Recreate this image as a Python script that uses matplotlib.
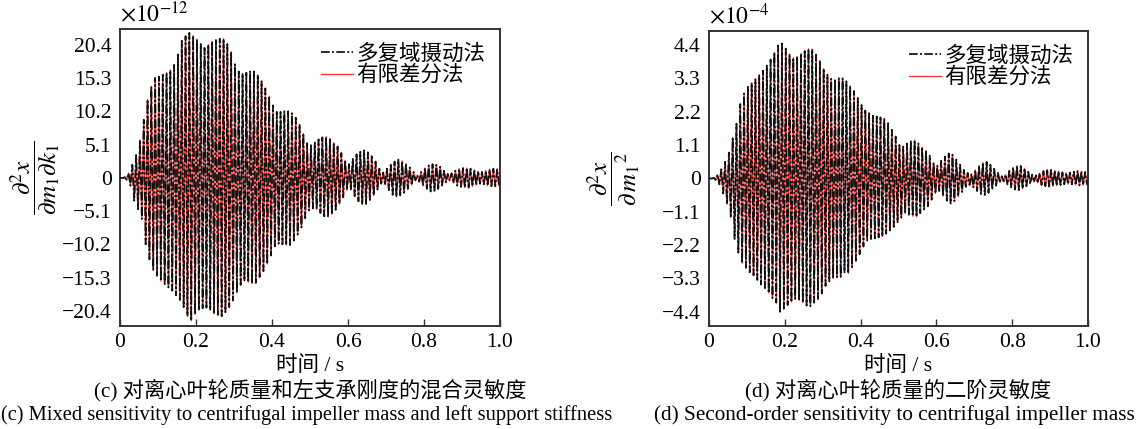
import numpy as np
import matplotlib
matplotlib.use("Agg")
import matplotlib.pyplot as plt

plt.rcParams['font.family'] = ['Liberation Serif', 'Noto Sans CJK SC', 'DejaVu Sans']
plt.rcParams['mathtext.fontset'] = 'stix'
plt.rcParams['axes.unicode_minus'] = True

# ---------------- data ----------------
# one oscillation cycle per 0.01 s; peak values of each half cycle
cycle_period = 0.01
n_cycles = 100

# (c) mixed sensitivity, unit 1e-12
c_upper = [0.0, 0.1, 0.7, 2.0, 3.5, 5.8, 8.9, 12.0, 14.0, 15.3,
           15.5, 15.8, 16.1, 16.5, 17.3, 18.9, 21.0, 21.7, 22.2, 21.8,
           21.2, 20.5, 19.9, 20.4, 20.9, 21.1, 21.3, 21.3, 20.5, 19.3,
           17.4, 16.3, 16.0, 16.1, 16.3, 16.3, 15.8, 14.8, 13.7, 12.5,
           11.1, 10.1, 10.1, 10.2, 10.2, 9.9, 9.2, 8.2, 6.8, 5.3,
           5.0, 5.4, 5.9, 6.2, 6.3, 6.0, 5.4, 4.8, 3.8, 2.7,
           2.1, 2.9, 3.6, 4.0, 4.2, 3.9, 3.3, 2.5, 1.4, 0.8,
           1.4, 2.0, 2.5, 2.8, 2.6, 2.2, 1.6, 0.9, 0.4, 0.9,
           1.5, 1.9, 2.1, 2.0, 1.7, 1.1, 0.6, 0.7, 1.1, 1.4,
           1.5, 1.5, 1.4, 1.2, 1.0, 0.9, 1.1, 1.3, 1.4, 1.3]
c_lower = [-0.05, -0.3, -1.2, -3.5, -4.8, -6.3, -10.2, -12.5, -14.1, -15.0,
           -15.8, -16.3, -16.8, -17.3, -18.0, -18.7, -19.8, -21.2, -21.9, -20.9,
           -20.3, -20.0, -19.9, -20.3, -20.7, -21.0, -21.2, -20.6, -19.8, -18.8,
           -17.6, -16.4, -15.8, -16.0, -16.2, -16.1, -15.2, -14.3, -13.2, -11.9,
           -10.5, -10.1, -10.2, -10.3, -10.3, -9.6, -8.7, -7.6, -6.2, -5.0,
           -4.7, -4.8, -5.4, -5.9, -6.0, -5.6, -4.9, -4.0, -3.0, -1.9,
           -1.8, -2.8, -3.6, -4.1, -4.0, -3.4, -2.7, -1.8, -0.9, -1.1,
           -1.9, -2.6, -2.9, -2.7, -2.3, -1.7, -1.1, -0.4, -0.6, -1.2,
           -1.7, -2.1, -2.0, -1.7, -1.2, -0.7, -0.4, -0.8, -1.2, -1.4,
           -1.5, -1.5, -1.3, -1.1, -0.9, -1.0, -1.2, -1.3, -1.3, -1.2]

# (d) second-order sensitivity, unit 1e-4
d_upper = [0.00, 0.02, 0.12, 0.30, 0.55, 0.85, 1.35, 1.80, 2.45, 2.80,
           3.02, 3.15, 3.27, 3.40, 3.55, 3.72, 3.92, 4.15, 4.38, 4.45,
           4.28, 4.10, 3.98, 4.02, 4.12, 4.20, 4.27, 4.26, 4.08, 3.88,
           3.62, 3.42, 3.28, 3.26, 3.30, 3.30, 3.20, 3.05, 2.88, 2.65,
           2.42, 2.24, 2.15, 2.07, 2.04, 2.01, 1.98, 1.82, 1.60, 1.38,
           1.10, 1.05, 1.15, 1.24, 1.26, 1.15, 1.03, 0.92, 0.75, 0.52,
           0.42, 0.58, 0.72, 0.82, 0.78, 0.62, 0.45, 0.28, 0.18, 0.15,
           0.28, 0.42, 0.52, 0.54, 0.45, 0.32, 0.18, 0.07, 0.12, 0.25,
           0.36, 0.42, 0.41, 0.33, 0.22, 0.12, 0.10, 0.17, 0.24, 0.27,
           0.28, 0.26, 0.23, 0.20, 0.18, 0.19, 0.22, 0.24, 0.23, 0.21]
d_lower = [-0.01, -0.05, -0.20, -0.50, -0.85, -1.30, -2.00, -2.45, -2.80, -2.95,
           -3.10, -3.20, -3.35, -3.50, -3.62, -3.78, -3.95, -4.10, -4.40, -4.30,
           -4.18, -4.08, -3.98, -4.00, -4.10, -4.20, -4.22, -4.10, -3.98, -3.80,
           -3.55, -3.40, -3.30, -3.26, -3.25, -3.10, -3.13, -2.93, -2.72, -2.50,
           -2.25, -2.05, -2.00, -1.98, -1.95, -1.92, -1.83, -1.72, -1.60, -1.45,
           -1.30, -1.16, -1.20, -1.25, -1.27, -1.15, -1.03, -0.92, -0.70, -0.50,
           -0.42, -0.58, -0.74, -0.83, -0.75, -0.60, -0.45, -0.28, -0.22, -0.30,
           -0.42, -0.52, -0.55, -0.48, -0.36, -0.24, -0.14, -0.10, -0.20, -0.30,
           -0.37, -0.39, -0.34, -0.26, -0.18, -0.12, -0.15, -0.22, -0.26, -0.27,
           -0.26, -0.24, -0.22, -0.20, -0.19, -0.20, -0.22, -0.23, -0.22, -0.21]

c_yticks = [-20.4, -15.3, -10.2, -5.1, 0, 5.1, 10.2, 15.3, 20.4]
d_yticks = [-4.4, -3.3, -2.2, -1.1, 0, 1.1, 2.2, 3.3, 4.4]
xticks = [0, 0.2, 0.4, 0.6, 0.8, 1.0]
xtick_labels = ['0', '0.2', '0.4', '0.6', '0.8', '1.0']
legend_labels = ['多复域摄动法', '有限差分法']
xlabel = '时间 / s'
captions_c = ['(c) 对离心叶轮质量和左支承刚度的混合灵敏度',
              '(c) Mixed sensitivity to centrifugal impeller mass and left support stiffness']
captions_d = ['(d) 对离心叶轮质量的二阶灵敏度',
              '(d) Second-order sensitivity to centrifugal impeller mass']


def zigzag(upper, lower):
    t_up = np.arange(n_cycles) * cycle_period + 0.25 * cycle_period
    t_lo = np.arange(n_cycles) * cycle_period + 0.75 * cycle_period
    t = np.empty(2 * n_cycles + 1)
    v = np.empty(2 * n_cycles + 1)
    t[0], v[0] = 0.0, 0.0
    t[1::2], t[2::2] = t_up, t_lo
    v[1::2], v[2::2] = upper, lower
    return t, v


FS = 15
fig = plt.figure(figsize=(11.4, 4.29), dpi=100)
W, H = 1140, 429


def make_axes(x0, x1, y0, y1):
    return fig.add_axes([x0 / W, 1 - y1 / H, (x1 - x0) / W, (y1 - y0) / H])


ax_c = make_axes(120, 500, 29, 326)
ax_d = make_axes(709, 1088, 31, 326)

panels = [
    (ax_c, c_upper, c_lower, c_yticks, (-22.7, 22.8), '12',
     r'$\dfrac{\partial^2 x}{\partial m_1\partial k_1}$', 18, 84, captions_c),
    (ax_d, d_upper, d_lower, d_yticks, (-4.87, 4.86), '4',
     r'$\dfrac{\partial^2 x}{\partial\, {m_1}^{2}}$', 18, 95, captions_d),
]

for ax, up, lo, yt, ylim, expo, ylab, ylab_fs, ylab_off, caps in panels:
    t, v = zigzag(up, lo)
    ax.plot(t, v, color='#ff3030', lw=0.95, zorder=2, label=legend_labels[1])
    ax.plot(t, v, color='#111111', lw=1.25, ls=(0, (5, 1.3, 1.2, 1.3)), zorder=3,
            label=legend_labels[0])
    ax.set_xlim(0, 1.0)
    ax.set_ylim(*ylim)
    ax.set_xticks(xticks)
    ax.set_xticklabels(xtick_labels)
    ax.set_yticks(yt)
    ax.set_yticklabels(['0' if y == 0 else ('\u2212' + f'{abs(y):.1f}' if y < 0 else f'{y:.1f}') for y in yt])
    ax.tick_params(axis='x', direction='in', length=5, width=1.0, color='#333333',
                   labelsize=FS + 0.5, pad=5)
    ax.tick_params(axis='y', direction='in', length=0, labelsize=FS + 0.5, pad=6)
    for s in ax.spines.values():
        s.set_linewidth(1.4)
        s.set_color('#333333')
    ax.set_xlabel(xlabel, fontsize=FS + 0.5, labelpad=3)
    ax.text(0.0, 1.008, r'$\times 10^{-' + expo + '}$', transform=ax.transAxes,
            fontsize=FS + 2, ha='left', va='bottom')
    handles, labels = ax.get_legend_handles_labels()
    ax.legend(handles[::-1], labels[::-1], loc='upper right', frameon=False,
              fontsize=FS + 0.5, handlelength=1.45, handletextpad=0.15, labelspacing=0.05,
              borderaxespad=0.3)
    bb = ax.get_position()
    fig.text(bb.x0 - ylab_off / W, bb.y0 + bb.height / 2, ylab, rotation=90,
             fontsize=ylab_fs, ha='center', va='center')
    cx = bb.x0 + bb.width / 2
    fig.text(cx, 1 - 390 / H, caps[0], fontsize=FS + 0.3, ha='center', va='center')

# English captions: keep fully inside the figure
fig.text(ax_c.get_position().x0 + ax_c.get_position().width / 2 - 3 / W, 1 - 415 / H,
         captions_c[1], fontsize=FS - 0.2, ha='center', va='center')
fig.text(ax_d.get_position().x0 + ax_d.get_position().width / 2 - 4 / W, 1 - 415 / H,
         captions_d[1], fontsize=FS + 0.3, ha='center', va='center')

fig.savefig('out.png', dpi=100)
